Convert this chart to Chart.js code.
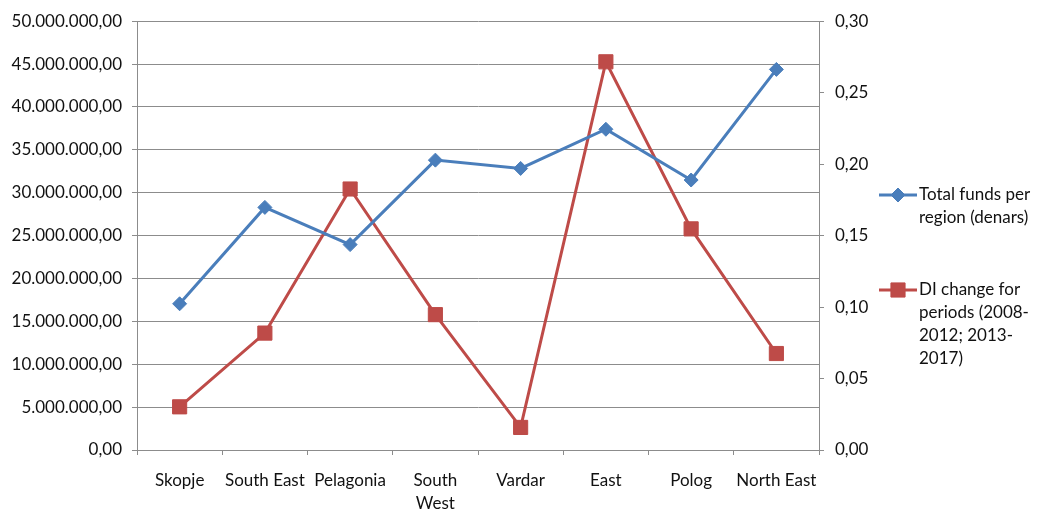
<!DOCTYPE html>
<html>
<head>
<meta charset="utf-8">
<script src="https://cdn.jsdelivr.net/npm/chart.js@4/dist/chart.umd.min.js"></script>
<style>
  html, body { margin: 0; padding: 0; background: #fff; }
  #wrap { width: 1039px; height: 514px; }
</style>
</head>
<body>
<div id="wrap"><canvas id="myChart" width="1039" height="514"></canvas></div>
<script>
// regions on the x axis ("South West" breaks onto two lines)
const regions = ['Skopje', 'South East', 'Pelagonia', ['South', 'West'], 'Vardar', 'East', 'Polog', 'North East'];

// total funds per region, denars (left axis)
const totalFunds = [17050000, 28290000, 23950000, 33800000, 32830000, 37400000, 31480000, 44380000];

// DI change between 2008-2012 and 2013-2017 (right axis)
const diChange = [0.0302, 0.0818, 0.1826, 0.0947, 0.0158, 0.2716, 0.1547, 0.0675];

// legend text, already wrapped
const fundsLegend = ['Total funds per', 'region (denars)'];
const diLegend = ['DI change for', 'periods (2008-', '2012; 2013-', '2017)'];

const blue = '#4A7EBB';
const red = '#BE4B48';
const gridGrey = '#8C8C8C';
const textCol = '#111';
const yFont = { family: 'Lato', size: 17, lineHeight: 1.2 };
const xFont = { family: 'Lato', size: 17, lineHeight: 1.35 };

// 1234567.5 -> "1.234.567,50"
function fmtDenars(v, digits) {
  const parts = Number(v).toFixed(digits).split('.');
  const intPart = parts[0].replace(/\B(?=(\d{3})+(?!\d))/g, '.');
  return parts[1] ? intPart + ',' + parts[1] : intPart;
}

// legend drawn by hand on the right, lines wrapped like the original
const sideLegend = {
  id: 'sideLegend',
  afterDraw(chart) {
    const ctx = chart.ctx;
    const items = [
      { lines: fundsLegend, color: blue, style: 'rectRot', radius: 7, y: 195 },
      { lines: diLegend, color: red, style: 'rect', radius: 10, y: 290 }
    ];
    ctx.save();
    ctx.font = yFont.size + 'px ' + yFont.family;
    ctx.textBaseline = 'middle';
    ctx.textAlign = 'left';
    items.forEach(it => {
      ctx.beginPath();
      ctx.moveTo(879, it.y);
      ctx.lineTo(917, it.y);
      ctx.lineWidth = 3;
      ctx.strokeStyle = it.color;
      ctx.stroke();
      ctx.fillStyle = it.color;
      ctx.strokeStyle = it.color;
      ctx.lineWidth = 1;
      Chart.helpers.drawPoint(ctx, { pointStyle: it.style, radius: it.radius, borderWidth: 1 }, 898, it.y);
      ctx.fillStyle = textCol;
      it.lines.forEach((t, i) => ctx.fillText(t, 919, it.y + i * 23));
    });
    ctx.restore();
  }
};

const ctx = document.getElementById('myChart').getContext('2d');

new Chart(ctx, {
  type: 'line',
  data: {
    labels: regions,
    datasets: [{
      label: fundsLegend.join(' '),
      data: totalFunds,
      yAxisID: 'y',
      borderColor: blue,
      backgroundColor: blue,
      borderWidth: 3,
      pointStyle: 'rectRot',
      pointRadius: 7,
      pointBorderWidth: 1,
      tension: 0
    }, {
      label: diLegend.join(' '),
      data: diChange,
      yAxisID: 'y1',
      borderColor: red,
      backgroundColor: red,
      borderWidth: 3,
      pointStyle: 'rect',
      pointRadius: 10,
      pointBorderWidth: 1,
      tension: 0
    }]
  },
  options: {
    responsive: false,
    animation: false,
    layout: { padding: { top: 19, left: 0, right: 0, bottom: 0 } },
    plugins: {
      legend: { display: false },
      tooltip: { enabled: false }
    },
    scales: {
      x: {
        offset: true,
        grid: { offset: true, drawOnChartArea: false, drawTicks: true, tickLength: 5, color: gridGrey },
        border: { display: true, color: gridGrey },
        ticks: { color: textCol, font: xFont, padding: 14, maxRotation: 0, autoSkip: false },
        afterFit: s => { s.height = 64; }
      },
      y: {
        position: 'left',
        min: 0,
        max: 50000000,
        grid: { color: gridGrey, tickLength: 5 },
        border: { display: true, color: gridGrey },
        ticks: {
          stepSize: 5000000,
          color: textCol,
          font: yFont,
          padding: 10,
          callback: v => fmtDenars(v, 2)
        },
        afterFit: s => { s.width = 137; }
      },
      y1: {
        position: 'right',
        min: 0,
        max: 0.3,
        grid: { drawOnChartArea: false, tickLength: 5, color: gridGrey },
        border: { display: true, color: gridGrey },
        ticks: {
          stepSize: 0.05,
          color: textCol,
          font: yFont,
          padding: 11,
          callback: v => fmtDenars(v, 2)
        },
        afterFit: s => { s.width = 220; }
      }
    }
  },
  plugins: [sideLegend]
});
</script>
</body>
</html>
